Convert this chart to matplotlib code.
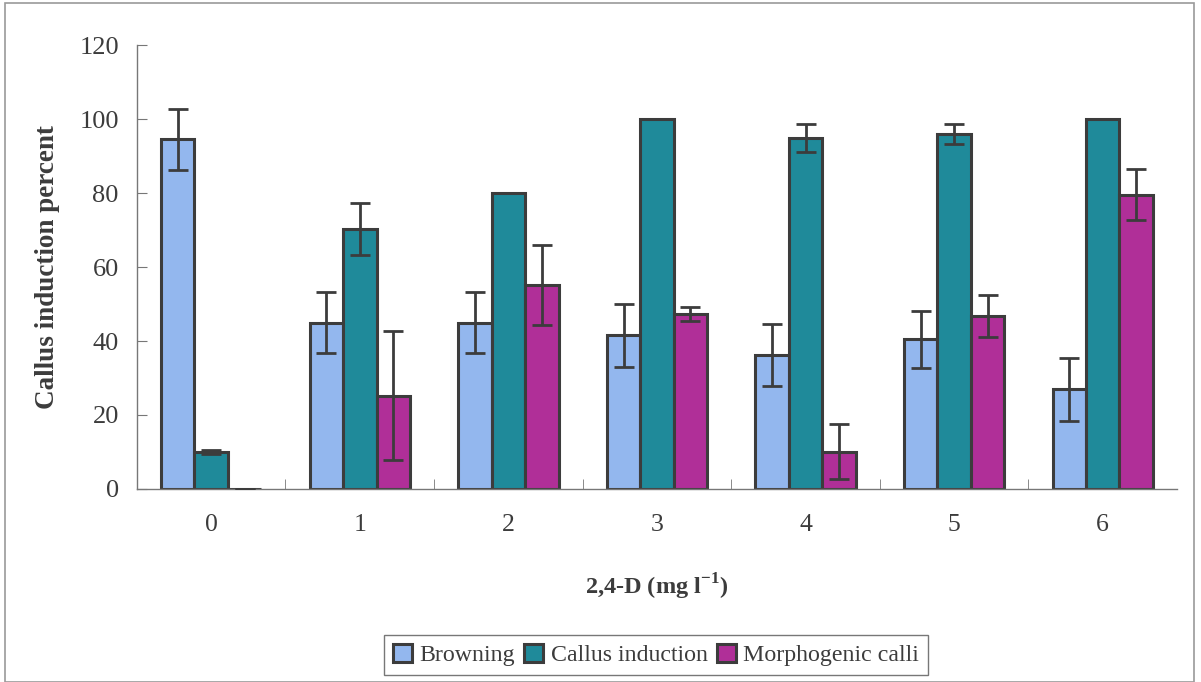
"""Callus induction / browning / morphogenic calli vs 2,4-D concentration."""

import matplotlib.pyplot as plt
import numpy as np
from matplotlib.patches import Rectangle

plt.rcParams["font.family"] = ["Liberation Serif", "DejaVu Serif"]
plt.rcParams["mathtext.fontset"] = "custom"
plt.rcParams["mathtext.rm"] = "Liberation Serif"
plt.rcParams["mathtext.bf"] = "Liberation Serif:bold"

doses = ["0", "1", "2", "3", "4", "5", "6"]
series = ["Browning", "Callus induction", "Morphogenic calli"]

browning = [94.5, 45.0, 45.0, 41.6, 36.2, 40.5, 26.9]
browning_err = [8.3, 8.2, 8.2, 8.5, 8.4, 7.7, 8.4]
callus = [10.0, 70.2, 80.0, 100.0, 94.8, 95.9, 100.0]
callus_err = [0.5, 7.0, 0.0, 0.0, 3.8, 2.7, 0.0]
morpho = [0.0, 25.2, 55.1, 47.3, 10.1, 46.8, 79.5]
morpho_err = [0.0, 17.4, 10.8, 1.8, 7.4, 5.6, 6.9]

colors = ["#93b7ee", "#1f8a9a", "#b02f98"]
ink = "#3c3c3c"

fig = plt.figure(figsize=(12.01, 6.82), dpi=100)
fig.patches.append(Rectangle((0.004, 0.0), 0.99, 0.995, transform=fig.transFigure,
                             fill=False, edgecolor="#9a9a9a", linewidth=1.2))
ax = fig.add_axes([0.114, 0.283, 0.866, 0.651])

x = np.arange(len(doses))
w = 0.225
for i, (vals, errs, c) in enumerate(
    [(browning, browning_err, colors[0]), (callus, callus_err, colors[1]),
     (morpho, morpho_err, colors[2])]
):
    ax.bar(x + (i - 1) * w, vals, w, color=c, edgecolor=ink, linewidth=2.2,
           label=series[i], zorder=2)
    ax.errorbar(x + (i - 1) * w, vals, yerr=errs, fmt="none", ecolor=ink,
                elinewidth=2, capsize=7, capthick=2, zorder=3)

ax.set_xlim(-0.5, len(doses) - 0.5)
ax.set_ylim(0, 120)
ax.set_yticks(range(0, 121, 20))
ax.set_xticks(x)
ax.set_xticklabels(doses)
ax.set_xticks(np.arange(0.5, len(doses) - 0.5, 1), minor=True)
ax.tick_params(axis="x", which="major", length=0, pad=18, labelsize=18.5, labelcolor=ink)
ax.tick_params(axis="x", which="minor", direction="in", length=7, color="#777777")
ax.tick_params(axis="y", direction="in", length=7, color="#777777", pad=13,
               labelsize=19, labelcolor=ink)
for s in ["top", "right"]:
    ax.spines[s].set_visible(False)
for s in ["left", "bottom"]:
    ax.spines[s].set_color("#777777")
    ax.spines[s].set_linewidth(1)

ax.set_ylabel("Callus induction percent", fontsize=19.5, fontweight="bold", color=ink,
              labelpad=14)
ax.set_xlabel(r"2,4-D (mg l$^{\mathbf{-1}}$)", fontsize=17.5, fontweight="bold",
              color=ink, labelpad=26)

leg = fig.legend(loc="center", bbox_to_anchor=(656 / 1201, 1 - 655 / 682), ncol=3,
                 fontsize=17.2, frameon=True, fancybox=False, handlelength=0.8,
                 handleheight=0.8, handletextpad=0.3, columnspacing=0.4,
                 borderpad=0.35, borderaxespad=0)
leg.get_frame().set_edgecolor("#555555")
leg.get_frame().set_linewidth(1)
for t in leg.get_texts():
    t.set_color(ink)

fig.savefig("out.png", dpi=100)
